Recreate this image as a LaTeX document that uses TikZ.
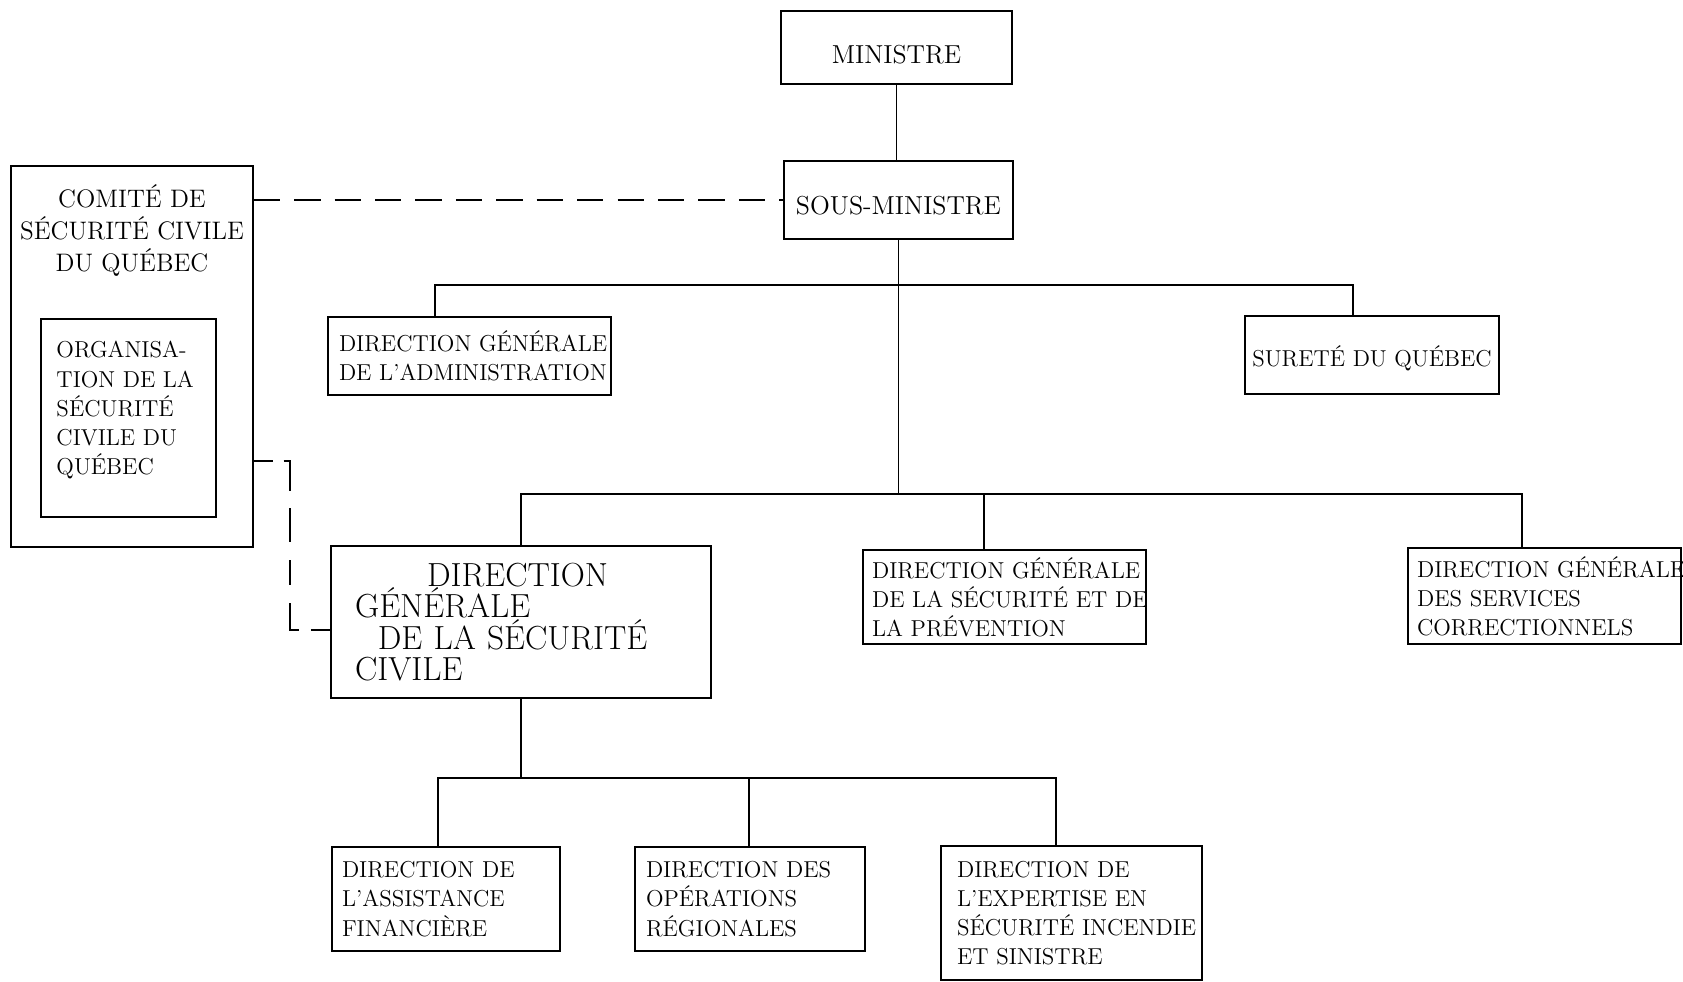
\documentclass[tikz,border=0pt]{standalone}
\usepackage{fontspec}
\usetikzlibrary{calc}
\newcommand{\lowered}[2]{\raisebox{-#1}[\height][\depth]{#2}}
\begin{document}
\begin{tikzpicture}[x=0.02cm,y=-0.02cm,
  box/.style={draw, line width=1pt, inner ysep=0pt},
  lbox/.style={box, align=left},
  std/.style={font=\fontsize{13.1}{16.6}\selectfont},
  big/.style={font=\fontsize{14.8}{17}\selectfont},
  conn/.style={line width=1pt},
  dsh/.style={line width=1pt, dash pattern=on 15pt off 8pt},
  dshl/.style={line width=1pt, dash pattern=on 10.8pt off 6.2pt on 20.4pt off 10.2pt on 19.3pt off 10.2pt on 14.2pt off 10.2pt on 20.4pt off 6.8pt on 11.3pt off 5pt}]
\useasboundingbox (0,0) rectangle (1683,981);

\node[box,big,minimum width=4.62cm,minimum height=1.46cm] (min) at (896.5,47.5) {\lowered{4.2pt}{MINISTRE}};
\node[box,big,minimum width=4.58cm,minimum height=1.56cm] (sous) at (898.5,200) {\lowered{3pt}{SOUS-MINISTRE}};
\node[box,minimum width=4.84cm,minimum height=7.62cm,
  label={[anchor=north,inner sep=0pt,yshift=-0.39cm,align=center,font=\fontsize{14.4}{18}\selectfont]north:COMITÉ DE\\SÉCURITÉ CIVILE\\DU QUÉBEC}] (com) at (132,356.5) {};
\node[box,minimum width=3.5cm,minimum height=3.96cm,
  label={[std,anchor=north west,inner sep=0pt,align=left,xshift=0.32cm,yshift=-0.46cm]north west:ORGANISA-\\TION DE LA\\SÉCURITÉ\\CIVILE DU\\QUÉBEC}] (org) at (128.5,418) {};
\node[lbox,std,text width=5.22cm,inner xsep=0.22cm,minimum height=1.56cm] (dga) at (469.5,356) {\mbox{DIRECTION GÉNÉRALE}\\\mbox{DE L'ADMINISTRATION}};
\node[box,std,minimum width=5.08cm,minimum height=1.56cm] (sur) at (1372,355) {\lowered{1.7pt}{SURETÉ DU QUÉBEC}};
\node[lbox,font=\fontsize{19}{17.8}\selectfont\addfontfeatures{FakeBold=1.2},text width=6.64cm,inner xsep=0.48cm,minimum height=3.04cm] (dgsc) at (521,622) {\hspace*{41pt}\mbox{DIRECTION}\\\mbox{GÉNÉRALE}\\\hspace*{13pt}\mbox{DE LA SÉCURITÉ}\\\mbox{CIVILE}};
\node[lbox,std,text width=5.30cm,inner xsep=0.18cm,minimum height=1.88cm] (dgsp) at (1004.5,597) {\mbox{DIRECTION GÉNÉRALE}\\\mbox{DE LA SÉCURITÉ ET DE}\\\mbox{LA PRÉVENTION}};
\node[lbox,std,text width=5.10cm,inner xsep=0.18cm,minimum height=1.92cm] (dgcor) at (1544.5,596) {\mbox{DIRECTION GÉNÉRALE}\\\mbox{DES SERVICES}\\\mbox{CORRECTIONNELS}};
\node[lbox,std,text width=4.16cm,inner xsep=0.2cm,minimum height=2.08cm] (daf) at (446,899) {\mbox{DIRECTION DE}\\\mbox{L'ASSISTANCE}\\\mbox{FINANCIÈRE}};
\node[lbox,std,text width=4.16cm,inner xsep=0.22cm,minimum height=2.08cm] (dor) at (750,899) {\mbox{DIRECTION DES}\\\mbox{OPÉRATIONS}\\\mbox{RÉGIONALES}};
\node[lbox,std,text width=4.58cm,inner xsep=0.32cm,minimum height=2.68cm] (desi) at (1071.5,913) {\mbox{DIRECTION DE}\\\mbox{L'EXPERTISE EN}\\\mbox{SÉCURITÉ INCENDIE}\\\mbox{ET SINISTRE}};

\coordinate (b1) at (898.5,285);
\coordinate (b2) at (898.5,494);
\coordinate (b3) at (521,778);
\coordinate (dk) at (290,461);

\draw[conn] (min.south) -- (min.south |- sous.north);
\draw[conn] (sous.south) -- (b2);
\draw[conn] (dga.north -| 435,0) |- (b1) -| (sur.north -| 1353,0);
\draw[conn] (dgsc.north) |- (b2) -| (dgcor.north -| 1522,0);
\draw[conn] (dgsp.north -| 984,0) -- (b2 -| 984,0);
\draw[conn] (dgsc.south) -- (b3);
\draw[conn] (daf.north -| 438,0) |- (b3) -| (desi.north -| 1056,0);
\draw[conn] (dor.north -| 749,0) -- (b3 -| 749,0);

\draw[dsh] (com.east |- sous.west) -- (sous.west);
\draw[dshl] (com.east |- dk) -- (dk) |- (dgsc.west |- 0,630);
\end{tikzpicture}
\end{document}
